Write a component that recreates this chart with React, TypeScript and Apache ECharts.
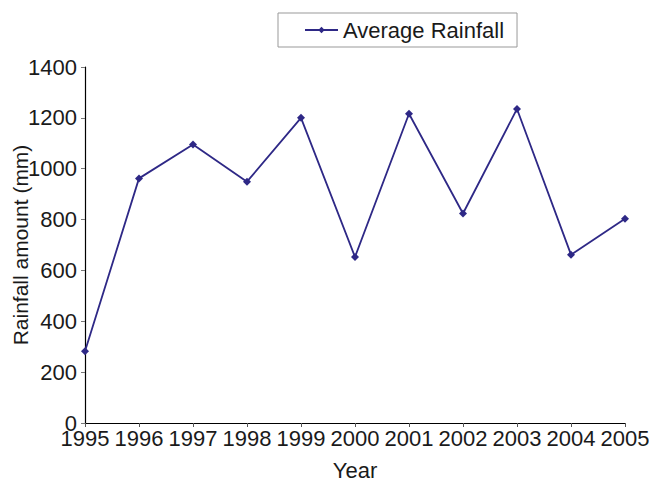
import React, { useEffect, useRef } from "react";
import * as echarts from "echarts";

const years = ["1995", "1996", "1997", "1998", "1999", "2000", "2001", "2002", "2003", "2004", "2005"];
const rainfall = [282, 962, 1095, 949, 1200, 653, 1216, 824, 1235, 662, 803];
const yTicks = { min: 0, max: 1400, interval: 200 };

const FONT = "Liberation Sans, Arial, Helvetica, sans-serif";
const LINE_COLOR = "#2e2886";
const FS = 22;

export default function App() {
  const ref = useRef<HTMLDivElement>(null);
  useEffect(() => {
    if (!ref.current) return;
    const chart = echarts.init(ref.current, undefined, { renderer: "svg" });
    chart.setOption({
      animation: false,
      backgroundColor: "#ffffff",
      textStyle: { fontFamily: FONT },
      legend: {
        left: 278,
        top: 13,
        padding: [6, 13, 6, 26],
        borderColor: "#999999",
        borderWidth: 1,
        itemWidth: 33,
        itemHeight: 8,
        itemGap: 6,
        textStyle: { fontFamily: FONT, fontSize: FS, color: "#1a1a1a" },
        data: ["Average Rainfall"],
      },
      grid: { left: 85, right: 24, top: 67, bottom: 58, outerBoundsMode: "none", containLabel: false },
      xAxis: {
        type: "category",
        data: years,
        boundaryGap: false,
        name: "Year",
        nameLocation: "middle",
        nameGap: 36,
        nameMoveOverlap: false,
        nameTextStyle: { fontFamily: FONT, fontSize: FS, color: "#1a1a1a" },
        axisLine: { lineStyle: { color: "#000000", width: 1.2 } },
        axisTick: { show: true, length: 4, lineStyle: { color: "#555555" } },
        axisLabel: { fontFamily: FONT, fontSize: FS, color: "#1a1a1a", margin: 4, interval: 0, hideOverlap: false },
        splitLine: { show: false },
      },
      yAxis: {
        type: "value",
        min: yTicks.min,
        max: yTicks.max,
        interval: yTicks.interval,
        name: "Rainfall amount (mm)",
        nameLocation: "middle",
        nameGap: 54,
        nameMoveOverlap: false,
        nameRotate: 90,
        nameTextStyle: { fontFamily: FONT, fontSize: 21, color: "#1a1a1a" },
        axisLine: { show: true, lineStyle: { color: "#000000", width: 1.2 } },
        axisTick: { show: true, length: 4, lineStyle: { color: "#777777" } },
        axisLabel: {
          fontFamily: FONT,
          fontSize: FS,
          color: "#1a1a1a",
          margin: 8,
          formatter: (v: number) => String(v),
        },
        splitLine: { show: false },
      },
      series: [
        {
          name: "Average Rainfall",
          type: "line",
          data: rainfall,
          symbol: "diamond",
          symbolSize: 8,
          lineStyle: { color: LINE_COLOR, width: 1.8 },
          itemStyle: { color: LINE_COLOR },
        },
      ],
    });
    return () => chart.dispose();
  }, []);
  return <div ref={ref} style={{ width: 649, height: 481, position: "absolute", left: 0, top: 0 }} />;
}
